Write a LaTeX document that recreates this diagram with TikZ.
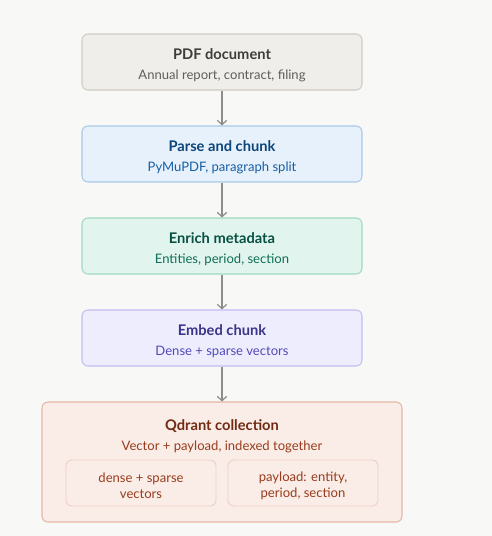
\documentclass[tikz,border=0pt]{standalone}
\usepackage{fontspec}
\setmainfont{Lato}
\usepackage{xcolor}
\usetikzlibrary{arrows.meta}
\definecolor{bgcol}{HTML}{F8F8F6}
\definecolor{grayfill}{HTML}{EFEEEA}
\definecolor{graydraw}{HTML}{CFCCC4}
\definecolor{graytext}{HTML}{3D3D3A}
\definecolor{graysub}{HTML}{5F5E5A}
\definecolor{bluefill}{HTML}{E6F1FB}
\definecolor{bluedraw}{HTML}{A9C8E6}
\definecolor{bluetext}{HTML}{0C447C}
\definecolor{bluesub}{HTML}{185FA5}
\definecolor{greenfill}{HTML}{E1F5EE}
\definecolor{greendraw}{HTML}{9FD9C0}
\definecolor{greentext}{HTML}{085041}
\definecolor{greensub}{HTML}{0F6E56}
\definecolor{purplefill}{HTML}{EEEDFE}
\definecolor{purpledraw}{HTML}{C3BDF0}
\definecolor{purpletext}{HTML}{3C3489}
\definecolor{purplesub}{HTML}{534AB7}
\definecolor{coralfill}{HTML}{FAECE7}
\definecolor{coraldraw}{HTML}{E4B7A5}
\definecolor{coraltext}{HTML}{712B13}
\definecolor{coralsub}{HTML}{993C1D}
\definecolor{arrowcol}{HTML}{8E8D8A}

\tikzset{
  stepbox/.style={draw, line width=0.8pt, rounded corners=4.5pt, align=center,
    minimum width=210pt, minimum height=42pt, inner sep=0pt},
  innerbox/.style={draw=coraldraw!65, fill=coralfill, line width=0.7pt, rounded corners=4.5pt,
    align=center, minimum width=112.5pt, minimum height=34.5pt, inner sep=0pt,
    text=coralsub, font=\fontsize{9.8}{12.3}\selectfont},
  flow/.style={draw=arrowcol, line width=0.9pt, -{Straight Barb[length=3.2pt,width=7pt]}}
}
\newcommand{\steptext}[4]{{\color{#1}\fontsize{11}{12}\selectfont\bfseries\rule{0pt}{12.5pt}#2}\\[3.2pt]{\color{#3}\fontsize{9.8}{11}\selectfont #4}}

\begin{document}
\begin{tikzpicture}[x=0.75pt,y=-0.75pt]
    % page
    \fill[bgcol] (0,0) rectangle (492,536);
    \useasboundingbox (0,0) rectangle (492,536);

    % pipeline steps
    \node[stepbox, draw=graydraw, fill=grayfill] (pdf) at (222,62)
        {\steptext{graytext}{PDF document}{graysub}{Annual report, contract, filing}};
    \node[stepbox, draw=bluedraw, fill=bluefill] (parse) at (222,154)
        {\steptext{bluetext}{Parse and chunk}{bluesub}{PyMuPDF, paragraph split}};
    \node[stepbox, draw=greendraw, fill=greenfill] (enrich) at (222,246)
        {\steptext{greentext}{Enrich metadata}{greensub}{Entities, period, section}};
    \node[stepbox, draw=purpledraw, fill=purplefill] (embed) at (222,338)
        {\steptext{purpletext}{Embed chunk}{purplesub}{Dense + sparse vectors}};

    % collection
    \node[stepbox, draw=coraldraw, fill=coralfill, minimum width=270pt, minimum height=90pt] (qdrant) at (222,462) {};
    \node[align=center, inner sep=0pt] (qlabel) at (222,433)
        {\steptext{coraltext}{Qdrant collection}{coralsub}{Vector + payload, indexed together}};
    \node[innerbox] (dense) at (141,483) {\rule{0pt}{11.5pt}dense + sparse\\vectors};
    \node[innerbox] (payload) at (303,483) {\rule{0pt}{11.5pt}payload: entity,\\period, section};

    % arrows
    \draw[flow] (pdf) -- (parse);
    \draw[flow] (parse) -- (enrich);
    \draw[flow] (enrich) -- (embed);
    \draw[flow] (embed) -- (qdrant);
\end{tikzpicture}
\end{document}
